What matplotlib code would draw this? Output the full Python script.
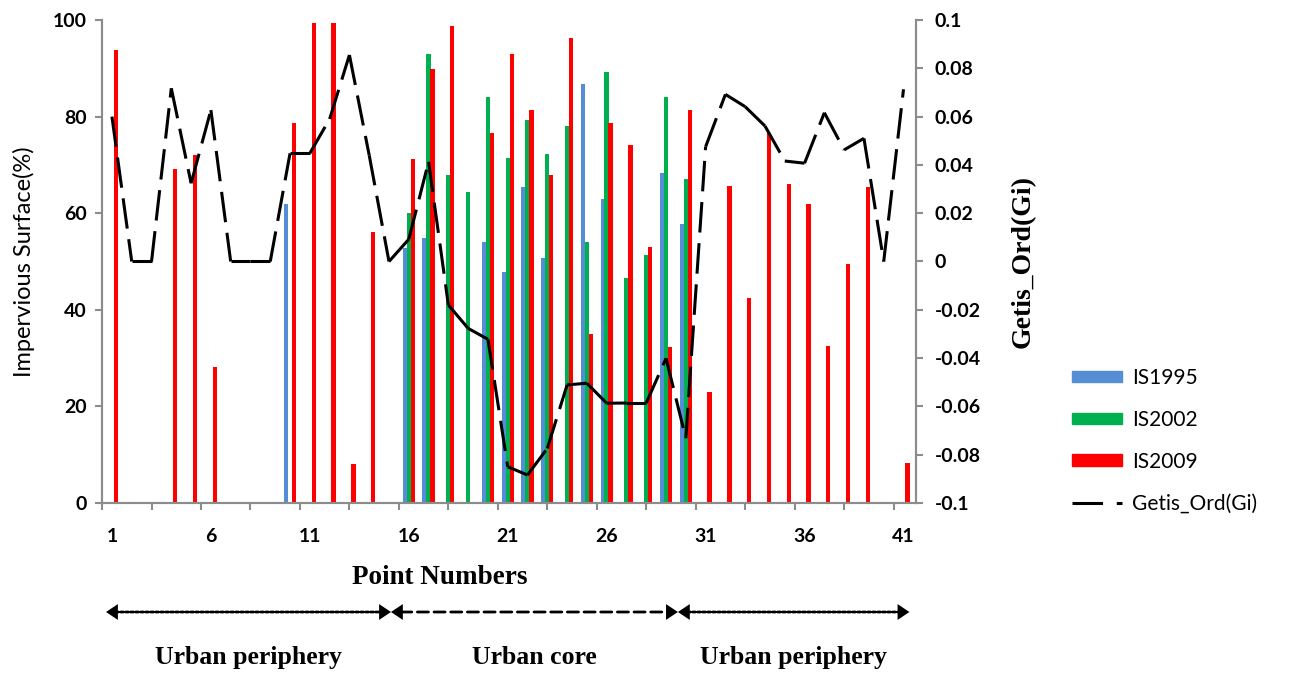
import matplotlib
matplotlib.use("Agg")
import matplotlib.pyplot as plt
from matplotlib.patches import Patch
from matplotlib.lines import Line2D

points = list(range(1, 42))
tick_labels = ["1", "6", "11", "16", "21", "26", "31", "36", "41"]

is1995 = [0, 0, 0, 0, 0, 0, 0, 0, 0, 61.9,
          0, 0, 0, 0, 0, 52.7, 54.9, 0, 0, 54.0,
          47.9, 65.5, 50.8, 0, 86.7, 62.9, 0, 0, 68.4, 57.7,
          0, 0, 0, 0, 0, 0, 0, 0, 0, 0, 0]
is2002 = [0, 0, 0, 0, 0, 0, 0, 0, 0, 0,
          0, 0, 0, 0, 0, 60.0, 92.9, 68.0, 64.3, 84.1,
          71.4, 79.2, 72.3, 78.1, 54.0, 89.3, 46.5, 51.3, 84.1, 67.1,
          0, 0, 0, 0, 0, 0, 0, 0, 0, 0, 0]
is2009 = [93.8, 0, 0, 69.2, 72.0, 28.2, 0, 0, 0, 78.6,
          99.3, 99.3, 8.0, 56.2, 0, 71.2, 89.9, 98.8, 0, 76.5,
          92.9, 81.4, 68.0, 96.2, 34.9, 78.6, 74.1, 53.1, 32.2, 81.4,
          23.0, 65.7, 42.5, 76.5, 66.0, 62.0, 32.5, 49.5, 65.4, 0, 8.2]
gi = [0.060, 0, 0, 0.0717, 0.0324, 0.0627, 0, 0, 0, 0.0448,
      0.0448, 0.059, 0.0855, 0.044, 0, 0.0092, 0.0413, -0.018, -0.0277, -0.0322,
      -0.085, -0.0884, -0.0774, -0.0511, -0.0504, -0.0587, -0.0586, -0.0586, -0.0401, -0.0732,
      0.0475, 0.0692, 0.0641, 0.0561, 0.0416, 0.0407, 0.0616, 0.0462, 0.051, 0, 0.0713]

zones = ["Urban periphery", "Urban core", "Urban periphery"]
zone_bounds = [0.7, 15.1, 29.6, 41.3]

c95, c02, c09 = "#558ED5", "#00B050", "#FF0000"
grey = "#8C8C8C"
sans = "Lato"
serif = "Liberation Serif"

fig = plt.figure(figsize=(13.05, 6.73), dpi=100)
ax = fig.add_axes([0.0782, 0.2526, 0.624, 0.7177])
ax2 = ax.twinx()

w = 0.22
ax.bar([p - 0.2 for p in points], is1995, width=w, color=c95)
ax.bar(points, is2002, width=w, color=c02)
ax.bar([p + 0.2 for p in points], is2009, width=w, color=c09)

# dash pattern restarts on every segment, like the original
dash = (10, 3.5)
for i in range(len(points) - 1):
    ax2.plot(points[i:i + 2], gi[i:i + 2], color="black", lw=2.2,
             dashes=dash, solid_capstyle="butt", dash_capstyle="butt")

ax.set_xlim(0.5, 41.65)
ax.set_ylim(0, 100)
ax2.set_ylim(-0.1, 0.1)

ax.set_xticks(range(1, 42, 5))
ax.set_xticklabels(tick_labels)
ax.set_xticks([0.5 + 2.5 * k for k in range(17)], minor=True)
ax.tick_params(axis="x", which="major", length=0, pad=18)
ax.tick_params(axis="x", which="minor", length=5, width=1.5, color=grey)
ax.set_yticks(range(0, 101, 20))
ax.tick_params(axis="y", length=5, width=1.5, color=grey, pad=6)
yt2 = [-0.1, -0.08, -0.06, -0.04, -0.02, 0, 0.02, 0.04, 0.06, 0.08, 0.1]
ax2.set_yticks(yt2)
ax2.set_yticklabels(["-0.1", "-0.08", "-0.06", "-0.04", "-0.02", "0",
                     "0.02", "0.04", "0.06", "0.08", "0.1"])
ax2.tick_params(axis="y", length=5, width=1.5, color=grey, pad=8)

for a in (ax, ax2):
    for lab in a.get_xticklabels() + a.get_yticklabels():
        lab.set_fontfamily(sans)
        lab.set_fontweight("bold")
        lab.set_fontsize(14)
    a.spines["top"].set_visible(False)
    for s in ("left", "right", "bottom"):
        a.spines[s].set_color(grey)
        a.spines[s].set_linewidth(1.5)

ax.set_ylabel("Impervious Surface(%)", fontfamily=sans, fontsize=17, labelpad=13)
ax2.set_ylabel("Getis_Ord(Gi)", fontfamily=serif, fontweight="bold", fontsize=20, labelpad=22)

fig.text(440 / 1305, 1 - 577 / 673, "Point Numbers", fontfamily=serif,
         fontweight="bold", fontsize=19.5, ha="center", va="center")

tr = ax.get_xaxis_transform()
yarrow = (503 - 612) / 483
styles = [(0, (1, 0.8)), (0, (4, 2)), (0, (1, 0.8))]
for i in range(3):
    # shaft
    ax.annotate("", xy=(zone_bounds[i + 1], yarrow), xytext=(zone_bounds[i], yarrow),
                xycoords=tr, textcoords=tr, annotation_clip=False,
                arrowprops=dict(arrowstyle="-", color="black", lw=2,
                                linestyle=styles[i], shrinkA=7, shrinkB=7))
    # solid heads
    ax.annotate("", xy=(zone_bounds[i + 1], yarrow), xytext=(zone_bounds[i], yarrow),
                xycoords=tr, textcoords=tr, annotation_clip=False,
                arrowprops=dict(arrowstyle="<|-|>,head_length=0.45,head_width=0.3",
                                color="black", lw=0, mutation_scale=19,
                                shrinkA=0, shrinkB=0))
    ax.text((zone_bounds[i] + zone_bounds[i + 1]) / 2, (503 - 657) / 483, zones[i],
            transform=tr, ha="center", va="center", fontfamily=serif,
            fontweight="bold", fontsize=18.5)

handles = [Patch(color=c95), Patch(color=c02), Patch(color=c09),
           Line2D([], [], color="black", lw=2.2, dashes=(10, 4.5))]
fig.legend(handles, ["IS1995", "IS2002", "IS2009", "Getis_Ord(Gi)"],
           loc="upper left", bbox_to_anchor=(1053 / 1305, 1 - 349 / 673),
           frameon=False, prop={"family": sans, "size": 15},
           handlelength=2.4, handleheight=0.45, labelspacing=1.05, handletextpad=0.5)

fig.savefig("out.png", dpi=100)
